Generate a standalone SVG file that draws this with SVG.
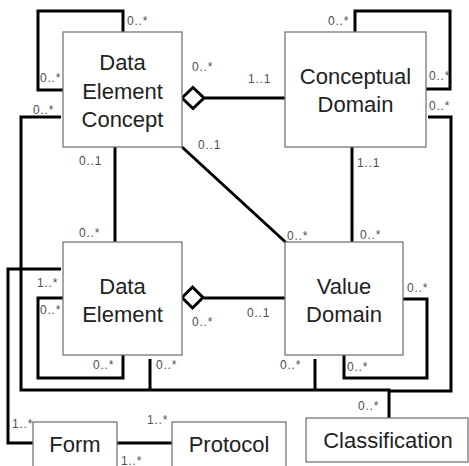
<svg xmlns="http://www.w3.org/2000/svg" width="469" height="466" viewBox="0 0 469 466">
<style>
.box{fill:#fff;stroke:#777;stroke-width:1.3}
.name{font-family:"Liberation Sans",Arial,sans-serif;font-size:22px;fill:#222;text-anchor:middle}
.m{font-family:"Liberation Sans",Arial,sans-serif;font-size:12px;fill:#505050;letter-spacing:0.8px}
.c{fill:none;stroke:#000;stroke-width:3}
.d{fill:#fff;stroke:#000;stroke-width:3}
</style>
<rect width="469" height="466" fill="#fff"/>
<g id="connectors">
<polyline class="c" points="63,90 38,90 38,11 123,11 123,32"/>
<polyline class="c" points="61,117 21,117 21,390 389,390 389,418"/>
<line class="c" x1="205" y1="98" x2="285" y2="98"/>
<line class="c" x1="115" y1="147" x2="115" y2="242"/>
<line class="c" x1="182" y1="147" x2="293" y2="249"/>
<line class="c" x1="352" y1="147" x2="352" y2="242"/>
<polyline class="c" points="355,32 355,11 450,11 450,89 426,89"/>
<polyline class="c" points="428,117 451,117 451,391 389,391"/>
<polyline class="c" points="61,269 8,269 8,443 33,443"/>
<polyline class="c" points="63,298 38,298 38,378 123,378 123,355"/>
<line class="c" x1="204" y1="298" x2="285" y2="298"/>
<line class="c" x1="150" y1="359" x2="150" y2="390"/>
<line class="c" x1="315" y1="359" x2="315" y2="390"/>
<polyline class="c" points="403,299 427,299 427,378 344,378 344,355"/>
<line class="c" x1="117" y1="443" x2="172" y2="443"/>
<polygon class="d" points="182,98 193,87.5 204,98 193,108.5"/>
<polygon class="d" points="182,297.5 192.5,287 203,297.5 192.5,308"/>
</g>
<g id="dec">
<rect class="box" x="63" y="32" width="119" height="115"/>
<text class="name" x="122.5" y="70">Data</text>
<text class="name" x="122.5" y="98.5">Element</text>
<text class="name" x="122.5" y="126.5">Concept</text>
</g>
<g id="cd">
<rect class="box" x="285" y="32" width="141" height="115"/>
<text class="name" x="355.5" y="83.5">Conceptual</text>
<text class="name" x="355.5" y="112">Domain</text>
</g>
<g id="de">
<rect class="box" x="63" y="242" width="119" height="113"/>
<text class="name" x="122.5" y="294">Data</text>
<text class="name" x="122.5" y="322">Element</text>
</g>
<g id="vd">
<rect class="box" x="285" y="242" width="118" height="113"/>
<text class="name" x="344" y="294">Value</text>
<text class="name" x="344" y="322">Domain</text>
</g>
<g id="form">
<rect class="box" x="33" y="422" width="84" height="60"/>
<text class="name" x="75" y="452">Form</text>
</g>
<g id="protocol">
<rect class="box" x="172" y="422" width="114" height="60"/>
<text class="name" x="229" y="452">Protocol</text>
</g>
<g id="classification">
<rect class="box" x="306" y="418" width="162" height="44"/>
<text class="name" x="388" y="448">Classification</text>
</g>
<g id="labels">
<text class="m" x="127" y="25">0..*</text>
<text class="m" x="40" y="82">0..*</text>
<text class="m" x="33" y="114">0..*</text>
<text class="m" x="192" y="71">0..*</text>
<text class="m" x="248" y="83">1..1</text>
<text class="m" x="79" y="165">0..1</text>
<text class="m" x="79" y="237">0..*</text>
<text class="m" x="198" y="149">0..1</text>
<text class="m" x="287" y="240">0..*</text>
<text class="m" x="357" y="167">1..1</text>
<text class="m" x="360" y="239">0..*</text>
<text class="m" x="328" y="25">0..*</text>
<text class="m" x="429" y="80">0..*</text>
<text class="m" x="429" y="110">0..*</text>
<text class="m" x="37" y="287">1..*</text>
<text class="m" x="40" y="314">0..*</text>
<text class="m" x="192" y="326">0..*</text>
<text class="m" x="247" y="317">0..1</text>
<text class="m" x="93" y="369">0..*</text>
<text class="m" x="156" y="369">0..*</text>
<text class="m" x="280" y="369">0..*</text>
<text class="m" x="347" y="371">0..*</text>
<text class="m" x="407" y="292">0..*</text>
<text class="m" x="358" y="410">0..*</text>
<text class="m" x="12" y="428">1..*</text>
<text class="m" x="147" y="424">1..*</text>
<text class="m" x="121" y="465">1..*</text>
</g>
</svg>
